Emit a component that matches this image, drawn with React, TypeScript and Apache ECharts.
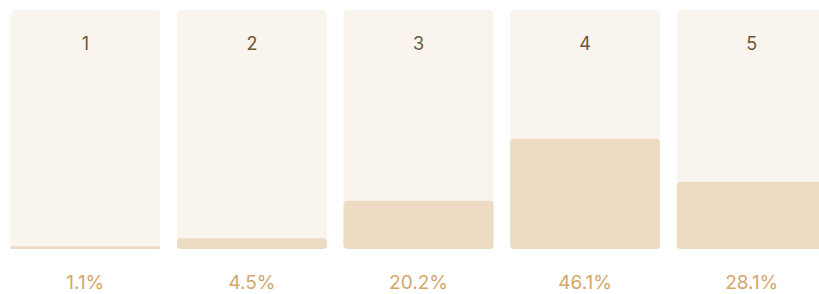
import React, { useEffect, useRef } from "react";
import * as echarts from "echarts";

const categories = ["1", "2", "3", "4", "5"];
const percentages = [1.1, 4.5, 20.2, 46.1, 28.1];

export default function App() {
  const ref = useRef<HTMLDivElement>(null);
  useEffect(() => {
    if (!ref.current) return;
    const chart = echarts.init(ref.current, null, { renderer: "svg" });
    chart.setOption({
      animation: false,
      grid: { left: 2, right: 0, top: 10, bottom: 45, containLabel: false },
      xAxis: {
        type: "category",
        data: categories,
        axisLine: { show: false },
        axisTick: { show: false },
        axisLabel: { show: false },
      },
      yAxis: {
        type: "value",
        min: 0,
        max: 100,
        show: false,
        splitLine: { show: false },
      },
      series: [
        {
          type: "bar",
          data: percentages,
          barWidth: 150,
          showBackground: true,
          backgroundStyle: { color: "#f9f4ed", borderRadius: 5 },
          itemStyle: { color: "#eddbc3", borderRadius: 4 },
          label: {
            show: true,
            position: "bottom",
            distance: 24,
            formatter: (p: any) => p.value + "%",
            color: "#d4a66c",
            fontSize: 19,
            fontFamily: "Inter",
          },
          z: 2,
        },
        {
          type: "bar",
          data: categories.map(() => 100),
          barWidth: 150,
          barGap: "-100%",
          itemStyle: { color: "transparent" },
          label: {
            show: true,
            position: "insideTop",
            distance: 24,
            formatter: (p: any) => categories[p.dataIndex],
            color: "#6f5638",
            fontSize: 18,
            fontFamily: "Inter",
          },
          silent: true,
          z: 3,
        },
      ],
    });
    return () => chart.dispose();
  }, []);
  return (
    <div
      style={{
        position: "absolute",
        left: 0,
        top: 0,
        width: 819,
        height: 294,
        overflow: "hidden",
      }}
    >
      <div ref={ref} style={{ width: 835, height: 294 }} />
    </div>
  );
}
